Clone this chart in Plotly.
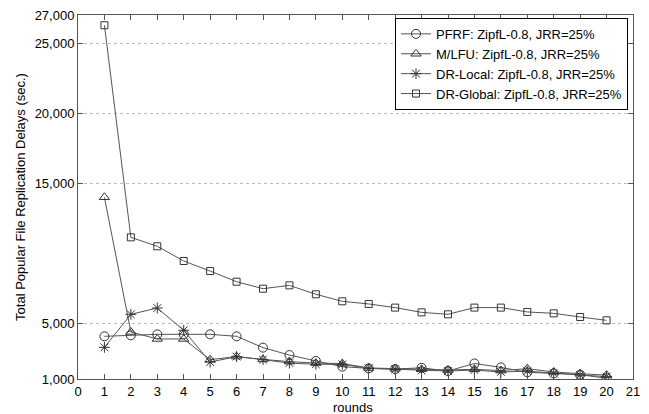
import plotly.graph_objects as go

rounds = list(range(1, 21))
pfrf = [4050, 4120, 4190, 4190, 4190, 4050, 3240, 2710, 2290, 1880,
        1760, 1710, 1800, 1570, 2110, 1830, 1480, 1400, 1310, 1050]
mlfu = [13980, 4360, 3860, 3860, 2380, 2600, 2400, 2240, 2140, 2100,
        1790, 1740, 1690, 1640, 1690, 1600, 1740, 1500, 1380, 1280]
drlocal = [3260, 5620, 6070, 4480, 2210, 2600, 2380, 2140, 2050, 2050,
           1760, 1690, 1600, 1570, 1640, 1500, 1560, 1400, 1290, 1170]
drglobal = [26270, 11120, 10480, 9430, 8710, 7950, 7450, 7690, 7050, 6550,
            6360, 6100, 5760, 5620, 6100, 6100, 5790, 5690, 5430, 5190]

names = ["PFRF: ZipfL-0.8, JRR=25%", "M/LFU: ZipfL-0.8, JRR=25%",
         "DR-Local: ZipfL-0.8, JRR=25%", "DR-Global: ZipfL-0.8, JRR=25%"]
symbols = ["circle-open", "triangle-up-open", "asterisk-open", "square-open"]
sizes = [9, 9, 9, 7]
series = [pfrf, mlfu, drlocal, drglobal]

y_ticks = [1000, 5000, 15000, 20000, 25000, 27000]
x_ticks = list(range(0, 22))
x_title = "rounds"
y_title = "Total Popular File Replication Delays (sec.)"

FONT = "Liberation Sans, Arial, sans-serif"

fig = go.Figure()
for name, vals, sym, sz in zip(names, series, symbols, sizes):
    fig.add_trace(go.Scatter(
        x=rounds, y=vals, name=name, mode="lines+markers",
        line=dict(color="#555555", width=1),
        marker=dict(symbol=sym, size=sz, color="#333333",
                    line=dict(width=1, color="#333333")),
    ))

fig.update_layout(
    width=649, height=414,
    margin=dict(l=78, r=16, t=15, b=35),
    paper_bgcolor="white", plot_bgcolor="white",
    font=dict(family=FONT, size=13, color="black"),
    showlegend=True,
    legend=dict(x=0.991, y=0.992, xanchor="right", yanchor="top",
                bordercolor="black", borderwidth=1, bgcolor="white",
                font=dict(size=13), tracegroupgap=0,
                itemwidth=30),
    annotations=[dict(text=x_title, xref="paper", yref="paper",
                      x=0.495, y=-0.077, xanchor="center", yanchor="middle",
                      showarrow=False, font=dict(size=13))],
)
fig.update_xaxes(
    range=[0, 21], tickvals=x_ticks, ticks="inside", ticklen=5,
    tickcolor="#555555", showline=True, linecolor="#555555", linewidth=1,
    mirror="ticks", showgrid=False, zeroline=False, automargin=False,
    ticklabelstandoff=0,
    tickfont=dict(size=13),
)
fig.update_yaxes(
    range=[1000, 27000], tickvals=y_ticks, tickformat=",", ticks="inside",
    ticklen=5, tickcolor="#555555", showline=True, linecolor="#555555",
    linewidth=1, mirror="ticks", showgrid=True, gridcolor="#bbbbbb",
    griddash="dot", gridwidth=1, zeroline=False, automargin=False,
    title=dict(text=y_title, font=dict(size=13), standoff=6),
    tickfont=dict(size=13),
)

fig.write_html("out.html")
